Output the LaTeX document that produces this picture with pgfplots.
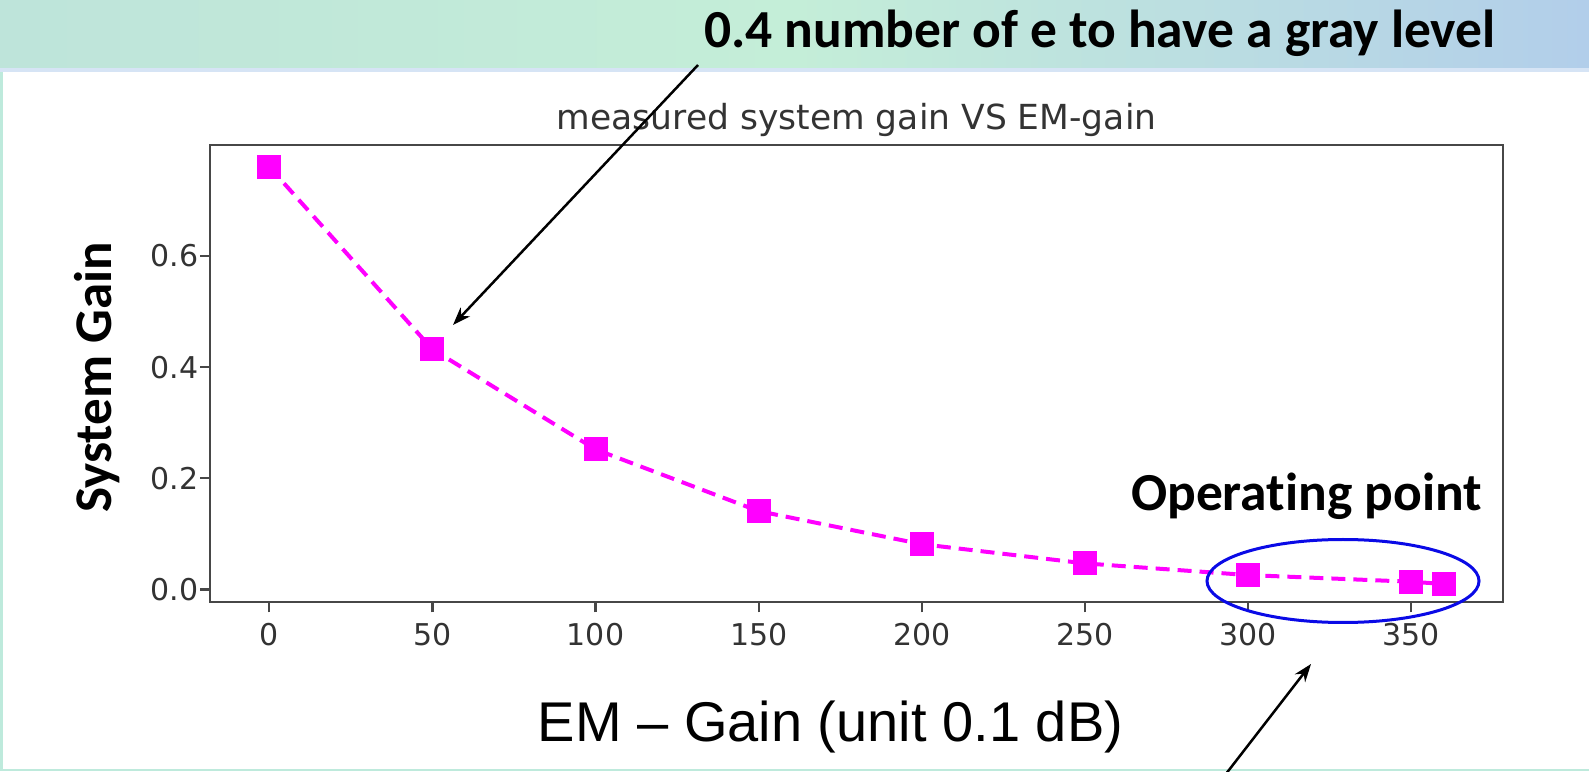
\documentclass[border=0pt]{standalone}
\usepackage{pgfplots}
\pgfplotsset{compat=1.18}
\usepackage{fontspec}
\usetikzlibrary{arrows.meta}
\newfontfamily\carlito[Ligatures=NoCommon]{Carlito}
\newfontfamily\dejavu{DejaVu Sans}
\newfontfamily\arialf{Liberation Sans}
\definecolor{bandL}{RGB}{190,228,218}
\definecolor{bandM}{RGB}{196,238,216}
\definecolor{bandR}{RGB}{178,206,234}
\definecolor{bandline}{RGB}{214,228,245}
\definecolor{strip}{RGB}{190,234,220}
\definecolor{ellblue}{RGB}{10,10,230}
\begin{document}
\begin{tikzpicture}[x=1pt,y=1pt]
\useasboundingbox (0,0) rectangle (1589,771);
% background
\fill[white] (0,0) rectangle (1589,771);
\shade[left color=bandL, right color=bandR, middle color=bandM] (0,703) rectangle (1589,771);
\fill[bandline] (0,699) rectangle (1589,703);
\fill[strip] (0,0) rectangle (3,699);
\fill[strip] (0,0) rectangle (1589,2);
\begin{axis}[
  at={(210pt,168.7pt)}, anchor=south west,
  scale only axis, width=1293.3pt, height=457.3pt,
  xmin=-18.2, xmax=378.3, ymin=-0.023, ymax=0.7995,
  xtick={0,50,100,150,200,250,300,350},
  ytick={0,0.2,0.4,0.6},
  tick pos=left, tick align=outside,
  major tick length=10pt,
  axis line style={draw=black!72, line width=2.2pt},
  every tick/.style={draw=black!72, line width=2.2pt},
  /pgf/number format/assume math mode=true,
  ticklabel style={font=\dejavu\fontsize{30}{36}\selectfont, text=black!80},
  xticklabel style={yshift=-7pt},
  yticklabel style={xshift=2pt, /pgf/number format/fixed, /pgf/number format/fixed zerofill, /pgf/number format/precision=1},
  clip=false,
]
\addplot[draw={rgb,255:red,255;green,0;blue,255}, line width=4pt, dash pattern=on 14pt off 8pt,
  mark=square*, mark size=10pt, mark options={solid, fill={rgb,255:red,255;green,0;blue,255}, draw=none}]
  coordinates {(0,0.760) (50,0.432) (100,0.252) (150,0.141) (200,0.0815) (250,0.047) (300,0.026) (350,0.014) (360,0.010)};
\end{axis}
% title
\node[anchor=base, text=black!80, font=\dejavu\fontsize{34.5}{40}\selectfont, inner sep=0pt] at (856.7,641.5) {measured system gain VS EM-gain};
% axis labels
\node[anchor=base, rotate=90, font=\carlito\bfseries\fontsize{53}{62}\selectfont, inner sep=0pt] at (111,393.5) {System Gain};
\node[anchor=base, font=\arialf\fontsize{56}{66}\selectfont, inner sep=0pt] at (830.5,30) {EM – Gain (unit 0.1 dB)};
% annotations
\node[anchor=base, font=\carlito\bfseries\fontsize{53.5}{63}\selectfont, inner sep=0pt] at (1100,723) {0.4 number of e to have a gray level};
\node[anchor=base, font=\carlito\bfseries\fontsize{53.5}{63}\selectfont, inner sep=0pt] at (1306.5,260.3) {Operating point};
\draw[ellblue, line width=3pt] (1343,190) ellipse [x radius=136, y radius=41.5];
\draw[black, line width=2.5pt, -{Stealth[length=18pt,width=13pt]}] (698,706) -- (453,446);
\begin{scope}
\clip (0,0) rectangle (1589,771);
\draw[black, line width=2.5pt, -{Stealth[length=18pt,width=13pt]}] (1222,-8) -- (1311,107);
\end{scope}
\end{tikzpicture}
\end{document}
